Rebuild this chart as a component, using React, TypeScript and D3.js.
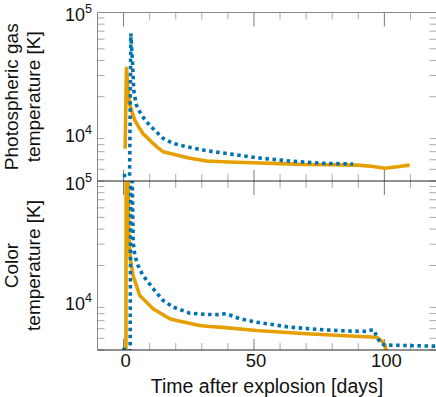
import { useEffect, useRef } from 'react'
import * as d3 from 'd3'

// top panel: photospheric gas temperature [K] vs days after explosion
const gasDaysA = [0.6, 1.1, 1.6, 2.3, 3, 4.3, 5.5, 7.4, 9, 11.3, 13, 15.1, 18, 20.3, 25, 31.8, 40, 49.6, 60, 70.1, 80, 89.3, 95, 100.2, 105, 109.7]
const gasTempA = [7400, 34500, 24000, 17600, 15500, 12800, 11500, 9900, 9200, 8200, 7600, 7000, 6750, 6570, 6200, 5860, 5750, 5670, 5570, 5490, 5450, 5420, 5300, 5110, 5250, 5420]
const gasDaysB = [-0.3, 2.3, 2.8, 3.1, 3.4, 3.9, 4.3, 4.9, 6.2, 7.8, 10, 12.6, 15.1, 19, 24.1, 30.5, 34.3, 42, 51, 63.7, 76.5, 88]
const gasTempB = [4460, 4400, 67000, 50000, 40000, 22700, 20000, 17100, 15000, 13200, 11600, 10200, 9040, 8210, 7700, 7230, 7000, 6650, 6240, 5860, 5610, 5530]

// bottom panel: color temperature [K]
const colorDaysA = [0.9, 1.0, 1.7, 2.0, 2.1, 2.6, 3.6, 6.2, 11.3, 17.7, 20.3, 29.2, 33, 38, 50.9, 70.1, 85, 97, 99, 100.2, 100.8]
const colorTempA = [3000, 150000, 100000, 43100, 31300, 22800, 16600, 11300, 8780, 7260, 7020, 6380, 6250, 6150, 5800, 5450, 5250, 5100, 4750, 4400, 3900]
const colorDaysB = [-0.5, 2.5, 2.8, 3.3, 3.5, 3.7, 4.3, 5.5, 7.4, 11.3, 15.1, 19, 25.4, 31.8, 36, 39.4, 44.5, 50.9, 63.7, 76.5, 85, 93, 95.8, 97.5, 98.5, 100, 110, 120]
const colorTempB = [4100, 3900, 150000, 100000, 59000, 31000, 24300, 20100, 16600, 12900, 10300, 9060, 8070, 7870, 7850, 7980, 7260, 6800, 6180, 5880, 5750, 5700, 5900, 5000, 4550, 4400, 4350, 4300]

const xMajor = [0, 50, 100]
const xMinor = [10, 20, 30, 40, 60, 70, 80, 90, 110, 120]
const yMinor = [4000, 5000, 6000, 7000, 8000, 9000, 20000, 30000, 40000, 50000, 60000, 70000, 80000, 90000]
const yLabels = [{ v: 1e4, exp: '4' }, { v: 1e5, exp: '5' }]

const ORANGE = '#E69F00'
const BLUE = '#0072B2'

export default function App() {
  const ref = useRef<SVGSVGElement>(null)

  useEffect(() => {
    const svg = d3.select(ref.current)
    svg.selectAll('*').remove()

    const left = 97.5, right = 436.5
    const x = d3.scaleLinear().domain([-10, 120]).range([left, right])

    const panels = [
      { top: 12.5, bottom: 181, a: [gasDaysA, gasTempA], b: [gasDaysB, gasTempB], label: ['Photospheric gas', 'temperature [K]'], topColor: '#888' },
      { top: 181, bottom: 350, a: [colorDaysA, colorTempA], b: [colorDaysB, colorTempB], label: ['Color', 'temperature [K]'], topColor: '#222' },
    ]

    panels.forEach((p, i) => {
      const y = d3.scaleLog().domain([4000, 1e5]).range([p.bottom, p.top])
      const g = svg.append('g')

      // ticks
      yMinor.forEach(v => {
        g.append('line').attr('x1', left).attr('x2', left + 7).attr('y1', y(v)).attr('y2', y(v)).attr('stroke', '#aaa')
        g.append('line').attr('x1', right - 7).attr('x2', right).attr('y1', y(v)).attr('y2', y(v)).attr('stroke', '#aaa')
      })
      xMinor.forEach(v => {
        g.append('line').attr('x1', x(v)).attr('x2', x(v)).attr('y1', p.top).attr('y2', p.top + 7).attr('stroke', '#aaa')
        g.append('line').attr('x1', x(v)).attr('x2', x(v)).attr('y1', p.bottom - 7).attr('y2', p.bottom).attr('stroke', '#aaa')
      })
      xMajor.forEach(v => {
        g.append('line').attr('x1', x(v)).attr('x2', x(v)).attr('y1', p.top).attr('y2', p.top + 14).attr('stroke', '#777')
        g.append('line').attr('x1', x(v)).attr('x2', x(v)).attr('y1', p.bottom - 11).attr('y2', p.bottom).attr('stroke', '#777')
      })

      // lines
      const clipId = `clip${i}`
      svg.append('clipPath').attr('id', clipId).append('rect')
        .attr('x', left).attr('y', p.top).attr('width', right - left).attr('height', p.bottom - p.top)

      const line = d3.line<number[]>()
        .x(d => x(d[0]))
        .y(d => y(d[1]))

      const ptsA = p.a[0].map((d, k) => [d, p.a[1][k]])
      const ptsB = p.b[0].map((d, k) => [d, p.b[1][k]])

      g.append('path').datum(ptsA).attr('clip-path', `url(#${clipId})`)
        .attr('d', line).attr('fill', 'none').attr('stroke', ORANGE)
        .attr('stroke-width', 3.6).attr('stroke-linejoin', 'round')
      g.append('path').datum(ptsB).attr('clip-path', `url(#${clipId})`)
        .attr('d', line).attr('fill', 'none').attr('stroke', BLUE)
        .attr('stroke-width', 3.6).attr('stroke-dasharray', '3.5,3.6')

      // spines
      g.append('line').attr('x1', left).attr('x2', left).attr('y1', p.top).attr('y2', p.bottom).attr('stroke', '#888')
      g.append('line').attr('x1', right).attr('x2', right).attr('y1', p.top).attr('y2', p.bottom).attr('stroke', '#888')
      g.append('line').attr('x1', left).attr('x2', right).attr('y1', p.top).attr('y2', p.top).attr('stroke', p.topColor)
      if (i === panels.length - 1) {
        g.append('line').attr('x1', left).attr('x2', right).attr('y1', p.bottom).attr('y2', p.bottom).attr('stroke', '#222')
      }

      // y tick labels
      yLabels.forEach(l => {
        const t = g.append('text').attr('x', 92).attr('y', y(l.v) + 8.5)
          .attr('text-anchor', 'end').attr('font-size', 18).attr('fill', '#111')
        t.append('tspan').text('10')
        t.append('tspan').attr('dy', -8).attr('font-size', 12.5).text(l.exp)
      })

      // y axis label, two lines
      const cy = (p.top + p.bottom) / 2
      p.label.forEach((s, k) => {
        g.append('text').attr('transform', `translate(${k === 0 ? 18 : 40},${cy}) rotate(-90)`)
          .attr('text-anchor', 'middle').attr('font-size', 19).attr('fill', '#111').text(s)
      })
    })

    // x tick labels
    xMajor.forEach(v => {
      svg.append('text').attr('x', x(v) + 2).attr('y', 367).attr('text-anchor', 'middle')
        .attr('font-size', 18.5).attr('fill', '#111').text(v)
    })
    svg.append('text').attr('x', (left + right) / 2).attr('y', 392.5).attr('text-anchor', 'middle')
      .attr('font-size', 19.5).attr('fill', '#111').text('Time after explosion [days]')
  }, [])

  return (
    <svg ref={ref} width={436} height={397}
      style={{ position: 'absolute', left: 0, top: 0, fontFamily: '"Liberation Sans", Arial, sans-serif', background: '#fff' }} />
  )
}
